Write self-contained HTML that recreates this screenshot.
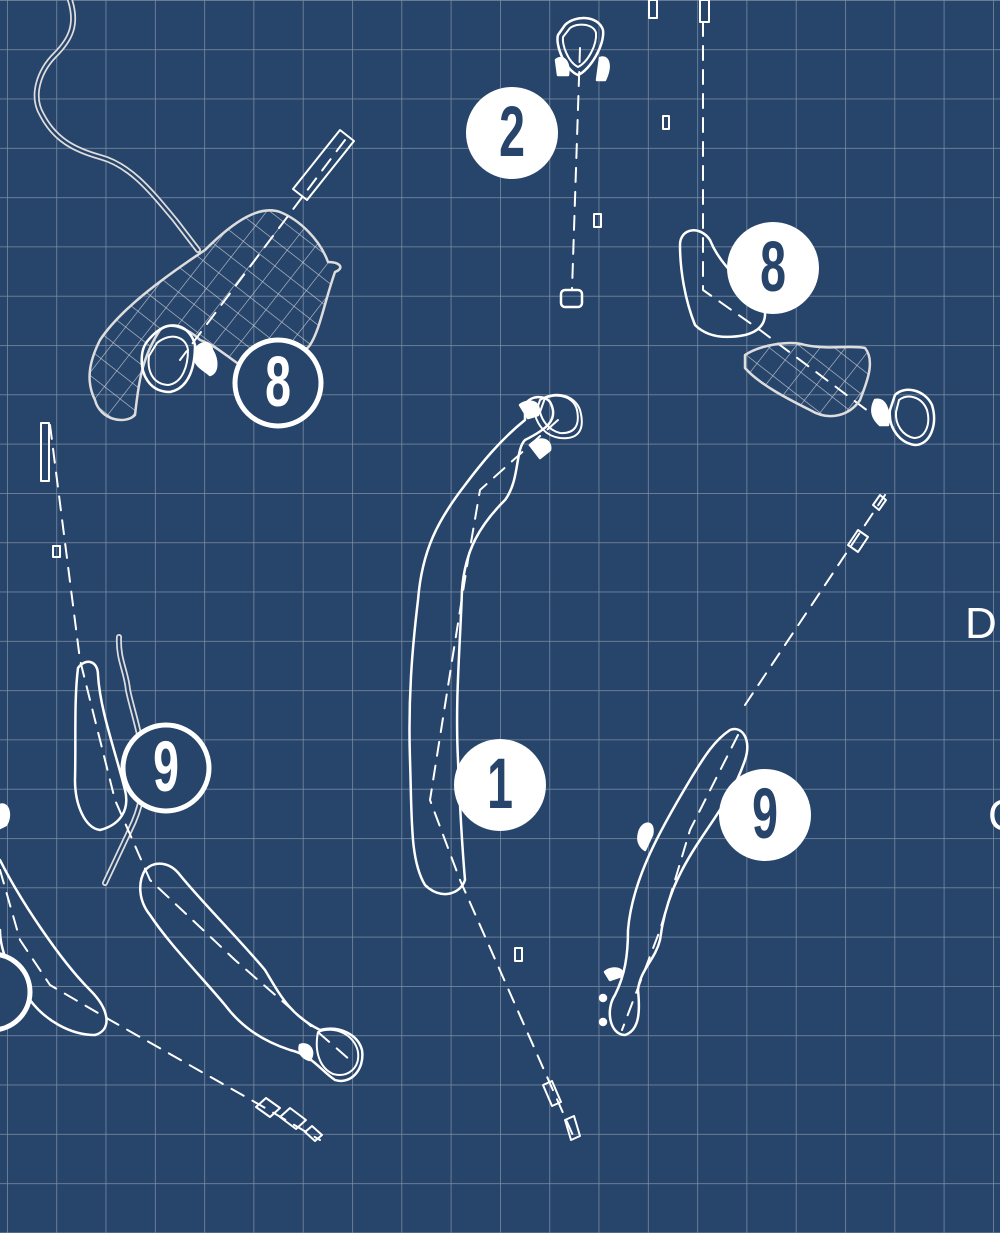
<!DOCTYPE html>
<html><head><meta charset="utf-8"><style>
html,body{margin:0;padding:0;background:#27446a;}
svg{display:block}
.num{font-family:"Liberation Sans Narrow","Liberation Sans",sans-serif;font-weight:bold;font-size:62px;text-anchor:middle}
</style></head><body>
<svg width="1000" height="1233" viewBox="0 0 1000 1233" xmlns="http://www.w3.org/2000/svg">
<defs>
<pattern id="grid" x="7" y="0" width="49.3" height="49.3" patternUnits="userSpaceOnUse">
<path d="M0 0V49.3M0 0H49.3" stroke="rgba(255,255,255,0.4)" stroke-width="1.5" fill="none"/>
</pattern>
<pattern id="hatch" width="20" height="20" patternUnits="userSpaceOnUse" patternTransform="rotate(38)">
<path d="M0 0V20M0 0H20" stroke="rgba(255,255,255,0.7)" stroke-width="1.2" fill="none"/>
</pattern>
</defs>
<rect width="1000" height="1233" fill="#27446a"/>
<rect width="1000" height="1233" fill="url(#grid)"/>

<g fill="none" stroke="#fff" stroke-width="2.5" stroke-linecap="round" stroke-linejoin="round">
<path d="M70 0 C78 25 70 40 55 55 C40 70 30 95 42 115 C55 140 75 150 100 157 C130 165 150 190 175 220 L198 250" stroke="#ddd" stroke-width="6"/>
<path d="M70 0 C78 25 70 40 55 55 C40 70 30 95 42 115 C55 140 75 150 100 157 C130 165 150 190 175 220 L198 250" stroke="#27446a" stroke-width="2.5"/>
<path d="M119 637 C118 660 126 670 128 690 C132 710 140 730 143 760 C145 790 140 810 130 830 L105 883" stroke="#ddd" stroke-width="6"/>
<path d="M119 637 C118 660 126 670 128 690 C132 710 140 730 143 760 C145 790 140 810 130 830 L105 883" stroke="#27446a" stroke-width="2.5"/>

<path d="M205 250 C235 220 260 205 280 212 C300 220 320 240 328 262 C340 262 345 268 335 272 C325 300 320 330 310 345 C300 360 260 360 240 365 C225 355 215 345 200 340 C190 330 170 320 160 330 C140 360 138 390 135 415 C125 425 100 420 95 400 C85 380 90 360 100 340 C120 310 160 280 205 250 Z" fill="url(#hatch)" stroke="#ddd"/>
<path d="M153 335 C170 318 190 325 195 345 C195 365 190 388 170 392 C150 392 140 375 142 355 C143 345 148 340 153 335 Z"/>
<path d="M157 343 C170 332 186 336 188 350 C188 365 183 383 168 385 C152 384 147 370 149 356 Z" stroke-width="2"/>
<path d="M195 350 C200 342 210 340 212 350 C218 360 218 372 210 375 C205 370 198 368 195 360 Z" fill="#fff"/>
<path d="M293 189 L340 130 L354 141 L307 200 Z" stroke-width="2"/>
<path d="M345 140 L180 360" stroke-dasharray="14 10" stroke-width="2"/>

<path d="M565 25 C575 15 598 15 603 30 C605 45 590 70 578 75 C565 70 555 45 558 35 Z"/>
<path d="M570 28 C578 22 594 24 596 33 C597 45 588 62 578 67 C568 62 562 45 563 37 Z" stroke-width="2"/>
<path d="M556 60 C562 55 570 60 568 75 L558 75 Z" fill="#fff"/>
<path d="M600 58 C608 55 612 65 605 80 L597 80 Z" fill="#fff"/>
<path d="M580 48 L572 290" stroke-dasharray="14 10" stroke-width="2"/>
<rect x="561" y="290" width="21" height="17" rx="4"/>
<rect x="663" y="116" width="6" height="13" stroke-width="2"/>
<rect x="594" y="214" width="7" height="13" stroke-width="2"/>
<rect x="649" y="0" width="8" height="18" stroke-width="2"/>
<rect x="700" y="0" width="9" height="22" stroke-width="2"/>

<path d="M703 22 L703 290 L760 330 L880 420" stroke-dasharray="14 10" stroke-width="2"/>
<path d="M680 245 C680 228 700 225 710 240 C720 265 740 280 760 300 C770 315 765 330 745 335 C720 340 705 335 695 325 C685 300 680 270 680 245 Z"/>
<path d="M745 355 C760 345 790 340 805 345 C830 350 850 345 865 348 C875 360 868 380 860 400 C850 415 830 422 810 410 C790 400 760 385 745 368 Z" fill="url(#hatch)" stroke="#ddd"/>
<path d="M895 395 C905 385 925 390 932 405 C938 425 930 445 915 445 C900 443 888 428 890 410 Z"/>
<path d="M899 400 C908 393 922 397 927 410 C931 425 925 438 914 438 C903 436 895 425 896 412 Z" stroke-width="2"/>
<path d="M875 400 C885 398 890 410 888 425 L880 425 C872 418 870 410 875 400 Z" fill="#fff"/>

<path d="M525 405 C530 395 545 395 550 402 C560 420 545 430 525 440 C515 450 520 480 505 500 C480 525 465 550 462 590 C460 650 455 700 458 760 C460 810 462 845 465 880 C460 895 440 900 425 885 C410 860 412 820 410 760 C408 700 412 650 418 600 C422 550 438 520 465 485 C480 465 500 440 525 420 Z"/>
<path d="M540 400 C555 390 575 395 580 410 C585 428 580 440 560 438 C545 436 538 425 535 415 Z" stroke-width="2"/>
<path d="M545 398 C560 392 574 398 577 410 C580 425 575 434 560 433 C548 430 542 420 540 412 Z" stroke-width="2"/>
<path d="M520 405 C530 398 542 402 538 415 L528 418 Z" fill="#fff"/>
<path d="M530 445 C540 435 552 440 550 450 L540 458 Z" fill="#fff"/>
<path d="M558 420 L480 490 L468 560 L430 800 L460 880 L575 1140" stroke-dasharray="14 10" stroke-width="2"/>
<rect x="515" y="948" width="7" height="13" stroke-width="2"/>
<path d="M543 1085 L552 1081 L561 1102 L552 1106 Z" stroke-width="2"/>
<path d="M565 1120 L574 1116 L580 1136 L571 1140 Z" stroke-width="2"/>

<path d="M730 730 C742 725 752 740 745 760 C735 790 720 810 700 840 C680 870 665 900 660 940 C655 960 640 970 638 990 C640 1010 640 1030 625 1035 C610 1035 605 1010 615 995 C625 975 628 955 628 930 C632 880 660 830 690 780 C705 755 715 740 730 730 Z"/>
<path d="M738 735 L690 830 L660 930 L622 1030" stroke-dasharray="14 10" stroke-width="2"/>
<path d="M745 705 L885 495" stroke-dasharray="14 10" stroke-width="2"/>
<path d="M848 545 L858 530 L868 537 L858 552 Z" stroke-width="2"/>
<path d="M873 505 L880 495 L886 500 L879 510 Z" stroke-width="2"/>
<path d="M640 830 C645 820 655 822 652 835 L645 850 C638 845 637 838 640 830 Z" fill="#fff"/>
<path d="M605 972 C612 966 625 968 622 976 L610 980 Z" fill="#fff"/>
<circle cx="603" cy="998" r="3" fill="#fff"/><circle cx="603" cy="1022" r="3" fill="#fff"/>

<path d="M50 425 L80 660 L115 800 L150 880 L235 960 L350 1060" stroke-dasharray="14 10" stroke-width="2"/>
<rect x="41" y="423" width="8" height="58" stroke-width="2"/>
<rect x="53" y="546" width="7" height="11" stroke-width="2"/>
<path d="M78 668 C85 658 98 660 98 675 C100 710 115 750 125 790 C130 810 120 825 100 830 C85 828 75 805 75 780 C76 740 74 700 78 668 Z"/>
<path d="M145 870 C155 860 170 862 180 875 C200 900 240 940 265 970 C280 995 290 1015 320 1030 C340 1025 358 1035 362 1050 C365 1070 350 1085 335 1080 C320 1070 312 1055 290 1050 C260 1040 240 1025 225 1005 C200 975 170 945 150 915 C138 900 138 882 145 870 Z"/>
<path d="M318 1032 C335 1025 355 1035 358 1052 C360 1068 348 1078 333 1074 C320 1068 314 1052 318 1032 Z" stroke-width="2"/>
<path d="M300 1045 C308 1042 316 1050 310 1060 C302 1058 298 1052 300 1045 Z" fill="#fff"/>
<path d="M0 860 C20 900 60 960 90 990 C110 1010 112 1030 95 1035 C70 1035 45 1020 30 1000 C10 975 0 950 0 930" />
<path d="M0 870 L20 940 L50 985 L110 1020 L260 1105 L320 1140" stroke-dasharray="14 10" stroke-width="2"/>
<path d="M256 1107 L266 1098 L280 1108 L270 1117 Z" stroke-width="2"/>
<path d="M280 1117 L290 1108 L306 1120 L296 1129 Z" stroke-width="2"/>
<path d="M305 1132 L312 1126 L322 1135 L315 1141 Z" stroke-width="2"/>
<path d="M0 805 C8 802 12 815 6 825 L0 828 Z" fill="#fff"/>
</g>

<circle cx="278" cy="383" r="43" fill="#27446a" stroke="#fff" stroke-width="5"/>
<text class="num" fill="#fff" transform="translate(278 406) scale(0.75 1.15)">8</text>
<circle cx="512" cy="133" r="46" fill="#fff"/>
<text class="num" fill="#27446a" transform="translate(512 156) scale(0.75 1.15)">2</text>
<circle cx="773" cy="268" r="46" fill="#fff"/>
<text class="num" fill="#27446a" transform="translate(773 291) scale(0.75 1.15)">8</text>
<circle cx="500" cy="785" r="46" fill="#fff"/>
<text class="num" fill="#27446a" transform="translate(500 808) scale(0.75 1.15)">1</text>
<circle cx="166" cy="768" r="43" fill="#27446a" stroke="#fff" stroke-width="5"/>
<text class="num" fill="#fff" transform="translate(166 791) scale(0.75 1.15)">9</text>
<circle cx="765" cy="815" r="46" fill="#fff"/>
<text class="num" fill="#27446a" transform="translate(765 838) scale(0.75 1.15)">9</text>
<circle cx="-8" cy="992" r="38" fill="#27446a" stroke="#fff" stroke-width="5"/>

<text x="965" y="638" font-family="Liberation Sans, sans-serif" font-size="44" fill="#fff">D</text>
<text x="988" y="830" font-family="Liberation Sans, sans-serif" font-size="44" fill="#fff">C</text>
</svg>
</body></html>
